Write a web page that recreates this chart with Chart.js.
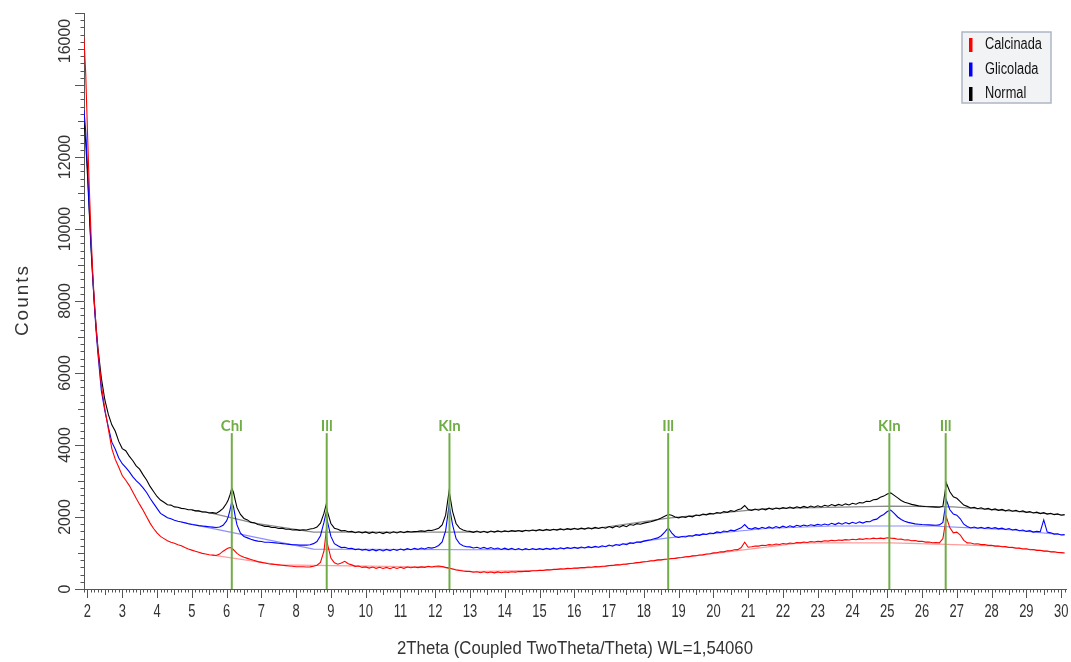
<!DOCTYPE html>
<html>
<head>
<meta charset="utf-8">
<script src="https://cdn.jsdelivr.net/npm/chart.js@4.4.1/dist/chart.umd.min.js"></script>
<style>
  html, body { margin: 0; padding: 0; background: #fff; }
</style>
</head>
<body>
<canvas id="xrd" width="1071" height="662"></canvas>
<script>
// 2theta positions (deg) shared by the three scans, one line per degree
const twoTheta = [
  1.9, 1.95, 2.0, 2.05, 2.1, 2.15, 2.2, 2.25, 2.3, 2.4, 2.5, 2.6, 2.7, 2.8, 2.9,
  3.0, 3.1, 3.2, 3.3, 3.4, 3.5, 3.6, 3.7, 3.8, 3.9,
  4.0, 4.1, 4.2, 4.3, 4.4, 4.5, 4.6, 4.7, 4.8, 4.9,
  5.0, 5.1, 5.2, 5.3, 5.4, 5.5, 5.6, 5.7, 5.8, 5.9,
  6.0, 6.05, 6.1, 6.15, 6.2, 6.25, 6.3, 6.4, 6.5, 6.6, 6.7, 6.8, 6.9,
  7.0, 7.1, 7.2, 7.3, 7.4, 7.5, 7.6, 7.7, 7.8, 7.9,
  8.0, 8.1, 8.2, 8.3, 8.4, 8.5, 8.6, 8.7, 8.8, 8.86, 8.9,
  9.0, 9.1, 9.2, 9.3, 9.4, 9.5, 9.6, 9.7, 9.8, 9.9,
  10.0, 10.1, 10.2, 10.3, 10.4, 10.5, 10.6, 10.7, 10.8, 10.9,
  11.0, 11.1, 11.2, 11.3, 11.4, 11.5, 11.6, 11.7, 11.8, 11.9,
  12.0, 12.1, 12.2, 12.3, 12.4, 12.5, 12.6, 12.7, 12.8, 12.9,
  13.0, 13.1, 13.2, 13.3, 13.4, 13.5, 13.6, 13.7, 13.8, 13.9,
  14.0, 14.1, 14.2, 14.3, 14.4, 14.5, 14.6, 14.7, 14.8, 14.9,
  15.0, 15.1, 15.2, 15.3, 15.4, 15.5, 15.6, 15.7, 15.8, 15.9,
  16.0, 16.1, 16.2, 16.3, 16.4, 16.5, 16.6, 16.7, 16.8, 16.9,
  17.0, 17.1, 17.2, 17.3, 17.4, 17.5, 17.6, 17.7, 17.8, 17.9,
  18.0, 18.1, 18.2, 18.3, 18.4, 18.5, 18.6, 18.7, 18.8, 18.9,
  19.0, 19.1, 19.2, 19.3, 19.4, 19.5, 19.6, 19.7, 19.8, 19.9,
  20.0, 20.1, 20.2, 20.3, 20.4, 20.5, 20.6, 20.7, 20.8, 20.9,
  21.0, 21.1, 21.2, 21.3, 21.4, 21.5, 21.6, 21.7, 21.8, 21.9,
  22.0, 22.1, 22.2, 22.3, 22.4, 22.5, 22.6, 22.7, 22.8, 22.9,
  23.0, 23.1, 23.2, 23.3, 23.4, 23.5, 23.6, 23.7, 23.8, 23.9,
  24.0, 24.1, 24.2, 24.3, 24.4, 24.5, 24.6, 24.7, 24.8, 24.9,
  25.0, 25.1, 25.2, 25.3, 25.4, 25.5, 25.6, 25.7, 25.8, 25.9,
  26.0, 26.1, 26.2, 26.3, 26.4, 26.5, 26.6, 26.7, 26.8, 26.9,
  27.0, 27.1, 27.2, 27.3, 27.4, 27.5, 27.6, 27.7, 27.8, 27.9,
  28.0, 28.1, 28.2, 28.3, 28.4, 28.5, 28.6, 28.7, 28.8, 28.9,
  29.0, 29.1, 29.2, 29.3, 29.4, 29.5, 29.6, 29.7, 29.8, 29.9,
  30.0, 30.1
];

const normal = [
  13000, 12400, 11500, 10500, 9500, 8650, 7900, 7250, 6700, 5850, 5250, 4850, 4560, 4380, 4100,
  3900, 3840, 3690, 3570, 3420, 3330, 3170, 3030, 2850, 2710,
  2570, 2470, 2410, 2340, 2330, 2280, 2270, 2240, 2230, 2200,
  2200, 2170, 2170, 2140, 2140, 2110, 2120, 2100, 2160, 2240,
  2380, 2480, 2620, 2800, 2680, 2460, 2260, 2070, 1960, 1920, 1850, 1840, 1790,
  1770, 1740, 1740, 1710, 1710, 1680, 1690, 1660, 1660, 1640,
  1650, 1630, 1645, 1640, 1665, 1680, 1720, 1830, 2100, 2330, 2150,
  1820, 1690, 1660, 1615, 1625, 1590, 1600, 1565, 1590, 1560,
  1585, 1545, 1580, 1550, 1575, 1540, 1580, 1550, 1590, 1555,
  1595, 1565, 1600, 1585, 1595, 1600, 1615, 1600, 1630, 1625,
  1650, 1690, 1780, 2050, 2720, 2150, 1820, 1690, 1640, 1610,
  1600, 1575, 1610, 1570, 1605, 1565, 1610, 1580, 1615, 1585,
  1615, 1590, 1620, 1600, 1625, 1595, 1630, 1610, 1640, 1615,
  1650, 1620, 1655, 1625, 1660, 1635, 1670, 1640, 1675, 1650,
  1685, 1655, 1690, 1665, 1700, 1670, 1710, 1680, 1715, 1690,
  1735, 1700, 1750, 1715, 1765, 1730, 1790, 1770, 1815, 1800,
  1830, 1850, 1870, 1900, 1930, 1970, 2020, 2070, 2050, 2000,
  1975, 2005, 1990, 2025, 2005, 2055, 2035, 2080, 2060, 2100,
  2085, 2125, 2105, 2150, 2130, 2175, 2155, 2200, 2230, 2320,
  2210, 2185, 2220, 2190, 2230, 2200, 2245, 2210, 2250, 2225,
  2260, 2235, 2275, 2240, 2285, 2255, 2295, 2260, 2305, 2270,
  2310, 2280, 2325, 2300, 2345, 2310, 2350, 2320, 2365, 2335,
  2380, 2355, 2400, 2390, 2435, 2430, 2480, 2490, 2550, 2580,
  2640, 2670, 2600, 2530, 2460, 2410, 2380, 2350, 2330, 2310,
  2300, 2290, 2285, 2280, 2275, 2270, 2300, 2940, 2700, 2560,
  2520, 2430, 2330, 2295, 2250, 2270, 2230, 2255, 2215, 2240,
  2200, 2225, 2185, 2210, 2170, 2200, 2160, 2185, 2145, 2170,
  2130, 2150, 2110, 2135, 2095, 2120, 2080, 2105, 2065, 2085,
  2050, 2065
];

const glicolada = [
  13300, 12700, 11700, 10600, 9600, 8700, 7850, 7150, 6550, 5500, 4950, 4500, 4080, 3880, 3640,
  3480, 3380, 3260, 3120, 3010, 2920, 2810, 2680, 2520, 2380,
  2240, 2100, 2040, 1980, 1950, 1910, 1880, 1860, 1840, 1810,
  1790, 1780, 1760, 1750, 1740, 1730, 1720, 1710, 1720, 1770,
  1890, 2010, 2200, 2420, 2280, 2010, 1780, 1550, 1460, 1420, 1380, 1350, 1330,
  1320, 1300, 1300, 1290, 1280, 1270, 1260, 1250, 1240, 1230,
  1230, 1220, 1220, 1220, 1230, 1260, 1320, 1480, 1850, 2110, 1880,
  1460, 1260, 1200, 1150, 1160, 1125, 1130, 1095, 1110, 1080,
  1100, 1065, 1100, 1060, 1095, 1055, 1100, 1065, 1105, 1070,
  1110, 1080, 1120, 1090, 1130, 1100, 1140, 1110, 1150, 1135,
  1160, 1210, 1310, 1620, 2330, 1780, 1400, 1260, 1200, 1175,
  1170, 1140, 1160, 1125, 1155, 1120, 1150, 1110, 1140, 1100,
  1135, 1095, 1130, 1090, 1125, 1085, 1120, 1090, 1125, 1095,
  1125, 1095, 1130, 1100, 1135, 1105, 1145, 1115, 1150, 1125,
  1160, 1130, 1165, 1140, 1175, 1150, 1185, 1160, 1200, 1175,
  1220, 1190, 1235, 1210, 1255, 1230, 1280, 1265, 1305, 1295,
  1330, 1350, 1370, 1395, 1420, 1480, 1580, 1700, 1560, 1460,
  1430, 1460, 1445, 1480, 1465, 1510, 1490, 1530, 1515, 1555,
  1540, 1585, 1565, 1610, 1590, 1635, 1615, 1660, 1700, 1790,
  1690, 1665, 1705, 1670, 1715, 1680, 1725, 1690, 1735, 1700,
  1745, 1710, 1755, 1720, 1770, 1740, 1775, 1750, 1785, 1760,
  1795, 1770, 1805, 1780, 1825, 1790, 1835, 1800, 1845, 1810,
  1855, 1820, 1865, 1830, 1875, 1870, 1920, 1940, 2020, 2070,
  2150, 2190, 2100, 2000, 1930, 1880, 1850, 1830, 1810, 1800,
  1790, 1785, 1780, 1775, 1770, 1780, 1850, 2470, 2200, 2080,
  2050, 1950, 1800, 1735, 1695, 1720, 1690, 1715, 1680, 1710,
  1680, 1705, 1670, 1690, 1655, 1680, 1640, 1660, 1620, 1640,
  1600, 1620, 1580, 1600, 1590, 1920, 1580, 1560, 1525, 1535,
  1500, 1510
];

const calcinada = [
  15300, 14300, 12700, 11200, 9900, 8800, 7950, 7250, 6650, 5650, 5000, 4450, 3900, 3600, 3380,
  3150, 3020, 2880, 2700, 2520, 2350, 2190, 2010, 1830, 1680,
  1560, 1460, 1400, 1340, 1300, 1270, 1230, 1200, 1150, 1110,
  1080, 1050, 1020, 990, 970, 950, 940, 930, 970, 1050,
  1110, 1140, 1150, 1130, 1090, 1040, 990, 920, 880, 850, 820, 790, 760,
  740, 720, 700, 690, 680, 670, 660, 650, 640, 630,
  620, 620, 620, 610, 615, 630, 660, 740, 1050, 1560, 1250,
  860, 730, 690, 720, 770, 700, 670, 630, 640, 600,
  615, 580, 610, 575, 605, 570, 600, 565, 605, 570,
  605, 575, 610, 590, 610, 595, 615, 600, 630, 610,
  630, 635, 625, 600, 580, 555, 530, 515, 500, 490,
  490, 465, 480, 452, 478, 450, 472, 448, 475, 452,
  472, 463, 478, 468, 484, 482, 494, 490, 505, 506,
  518, 514, 532, 530, 544, 546, 558, 555, 572, 570,
  583, 580, 598, 594, 609, 606, 623, 619, 634, 636,
  652, 655, 670, 669, 689, 690, 709, 714, 733, 740,
  758, 764, 784, 788, 809, 810, 828, 832, 849, 850,
  868, 874, 894, 898, 920, 924, 944, 948, 974, 978,
  1004, 1008, 1034, 1032, 1060, 1064, 1090, 1094, 1150, 1300,
  1160, 1174, 1196, 1192, 1216, 1208, 1232, 1222, 1248, 1238,
  1262, 1252, 1278, 1266, 1292, 1282, 1306, 1292, 1318, 1306,
  1328, 1316, 1340, 1330, 1352, 1342, 1362, 1350, 1372, 1362,
  1382, 1370, 1392, 1380, 1402, 1390, 1412, 1398, 1414, 1400,
  1422, 1412, 1406, 1380, 1386, 1362, 1366, 1342, 1346, 1322,
  1326, 1302, 1306, 1284, 1290, 1282, 1400, 2000, 1700, 1560,
  1580, 1500, 1350, 1282, 1276, 1252, 1256, 1232, 1236, 1212,
  1216, 1192, 1196, 1172, 1176, 1152, 1156, 1132, 1136, 1112,
  1116, 1092, 1096, 1072, 1076, 1052, 1056, 1032, 1036, 1012,
  1010, 998
];

// fitted backgrounds (lighter lines under each scan)
const bgNormalTheta = [5.0, 5.5, 6.8, 8.5, 12.8, 14.0, 16.7, 18.7, 21.5, 25.1, 26.9, 28.2, 30.1];
const bgNormal = [2190, 2120, 1830, 1580, 1580, 1600, 1690, 1970, 2230, 2300, 2280, 2190, 2055];
const bgGlicoladaTheta = [4.7, 8.5, 13.0, 15.0, 16.7, 18.7, 21.5, 23.4, 26.3, 27.4, 28.5, 30.1];
const bgGlicolada = [1860, 1110, 1090, 1100, 1160, 1420, 1680, 1750, 1750, 1700, 1650, 1500];
const bgCalcinadaTheta = [5.6, 7.5, 12.2, 13.0, 15.0, 16.7, 18.7, 22.5, 25.1, 26.7, 28.2, 30.1];
const bgCalcinada = [940, 670, 610, 480, 520, 610, 830, 1280, 1280, 1240, 1190, 1000];

// phase markers
const phaseNames = ["Chl", "Ill", "Kln", "Ill", "Kln", "Ill"];
const phaseTheta = [6.15, 8.88, 12.41, 18.70, 25.06, 26.68];
const phaseTop = 4330;

const xTicks = [2, 3, 4, 5, 6, 7, 8, 9, 10, 11, 12, 13, 14, 15, 16, 17, 18, 19, 20, 21, 22, 23, 24, 25, 26, 27, 28, 29, 30];
const yTicks = [0, 2000, 4000, 6000, 8000, 10000, 12000, 16000];

const pairs = (xs, ys) => xs.map((x, i) => ({ x, y: ys[i] }));

const green = "#70ad47";
const textColor = "#333";

function condensed(ctx, text, x, y, sx) {
  ctx.save();
  ctx.translate(x, y);
  ctx.scale(sx, 1);
  ctx.fillText(text, 0, 0);
  ctx.restore();
}

// ticks, labels, titles and the boxed legend, drawn the way DIFFRAC.EVA does
const decorations = {
  id: "decorations",
  afterDraw(chart) {
    const { ctx, chartArea: a, scales: { x, y } } = chart;
    ctx.save();
    ctx.strokeStyle = "#555";
    ctx.lineWidth = 1;
    ctx.beginPath();
    for (let i = Math.ceil(x.min * 10); i <= Math.floor(x.max * 10); i++) {
      const px = Math.round(x.getPixelForValue(i / 10)) + 0.5;
      const len = i % 10 === 0 ? 9 : i % 5 === 0 ? 6 : 3.5;
      ctx.moveTo(px, a.bottom);
      ctx.lineTo(px, a.bottom + len);
    }
    for (let v = 0; v <= y.max; v += 200) {
      const py = Math.round(y.getPixelForValue(v)) + 0.5;
      const len = v % 2000 === 0 ? 9 : v % 1000 === 0 ? 6 : 3.5;
      ctx.moveTo(a.left - len, py);
      ctx.lineTo(a.left, py);
    }
    ctx.stroke();

    // x tick labels (narrow font)
    ctx.fillStyle = textColor;
    ctx.font = '18px "Liberation Sans", Arial, sans-serif';
    ctx.textAlign = "center";
    ctx.textBaseline = "alphabetic";
    xTicks.forEach((t) => condensed(ctx, String(t), x.getPixelForValue(t), 617, 0.72));

    // y tick labels, rotated; the top one is pushed inside the axis
    ctx.font = '16px "Liberation Sans", Arial, sans-serif';
    yTicks.forEach((t) => {
      const py = Math.max(y.getPixelForValue(t), a.top + 28);
      ctx.save();
      ctx.translate(70, py);
      ctx.rotate(-Math.PI / 2);
      ctx.fillText(String(t), 0, 0);
      ctx.restore();
    });

    // axis titles
    ctx.font = '18px "Liberation Sans", Arial, sans-serif';
    condensed(ctx, "2Theta (Coupled TwoTheta/Theta) WL=1,54060", 575, 654, 0.93);
    ctx.save();
    ctx.translate(28, 300);
    ctx.rotate(-Math.PI / 2);
    ctx.font = '19px "Liberation Sans", Arial, sans-serif';
    ctx.letterSpacing = "2px";
    ctx.fillText("Counts", 0, 0);
    ctx.restore();

    // phase labels
    ctx.fillStyle = green;
    ctx.font = 'bold 15px Lato, "Open Sans", sans-serif';
    const topPx = y.getPixelForValue(phaseTop);
    phaseNames.forEach((n, i) => {
      ctx.fillText(n, x.getPixelForValue(phaseTheta[i]), topPx - 2);
    });

    // legend box
    ctx.fillStyle = "#f2f3f5";
    ctx.fillRect(962, 32, 89, 71);
    ctx.strokeStyle = "#aeb7c4";
    ctx.lineWidth = 1.5;
    ctx.strokeRect(962, 32, 89, 71);
    ctx.font = '16px "Liberation Sans", Arial, sans-serif';
    ctx.textAlign = "left";
    ctx.textBaseline = "middle";
    const entries = chart.data.datasets.filter((d) => d.inLegend);
    entries.forEach((d, i) => {
      const cy = 45 + i * 24.5;
      ctx.fillStyle = d.borderColor;
      ctx.fillRect(969, cy - 7, 3.5, 14);
      ctx.fillStyle = "#111";
      condensed(ctx, d.label, 985, cy, 0.8);
    });
    ctx.restore();
  },
};

const markerSets = phaseTheta.map((t, i) => ({
  label: phaseNames[i],
  data: [{ x: t, y: 0 }, { x: t, y: phaseTop }],
  borderColor: green,
  borderWidth: 2,
}));

new Chart(document.getElementById("xrd"), {
  type: "line",
  data: {
    datasets: [
      ...markerSets,
      { label: "Calcinada", inLegend: true, data: pairs(twoTheta, calcinada), borderColor: "#ff0000", borderWidth: 1.1 },
      { label: "Glicolada", inLegend: true, data: pairs(twoTheta, glicolada), borderColor: "#0000ff", borderWidth: 1.1 },
      { label: "Normal", inLegend: true, data: pairs(twoTheta, normal), borderColor: "#000000", borderWidth: 1.1 },
      { label: "bg Calcinada", data: pairs(bgCalcinadaTheta, bgCalcinada), borderColor: "#ff9c9c", borderWidth: 1.2 },
      { label: "bg Glicolada", data: pairs(bgGlicoladaTheta, bgGlicolada), borderColor: "#8e8eff", borderWidth: 1.2 },
      { label: "bg Normal", data: pairs(bgNormalTheta, bgNormal), borderColor: "#8a8a8a", borderWidth: 1.2 },
    ],
  },
  options: {
    responsive: false,
    animation: false,
    parsing: true,
    elements: { point: { radius: 0 }, line: { tension: 0 } },
    layout: { padding: { top: 13, right: 5, left: 0, bottom: 0 } },
    scales: {
      x: {
        type: "linear",
        min: 1.9,
        max: 30.14,
        grid: { display: false, drawTicks: false },
        border: { display: true, color: "#555", width: 1 },
        ticks: { display: false },
        afterFit: (s) => { s.height = 73; },
      },
      y: {
        type: "linear",
        min: 0,
        max: 16000,
        grid: { display: false, drawTicks: false },
        border: { display: true, color: "#555", width: 1 },
        ticks: { display: false },
        afterFit: (s) => { s.width = 84; },
      },
    },
    plugins: {
      legend: { display: false },
      tooltip: { enabled: false },
    },
  },
  plugins: [decorations],
});
</script>
</body>
</html>
